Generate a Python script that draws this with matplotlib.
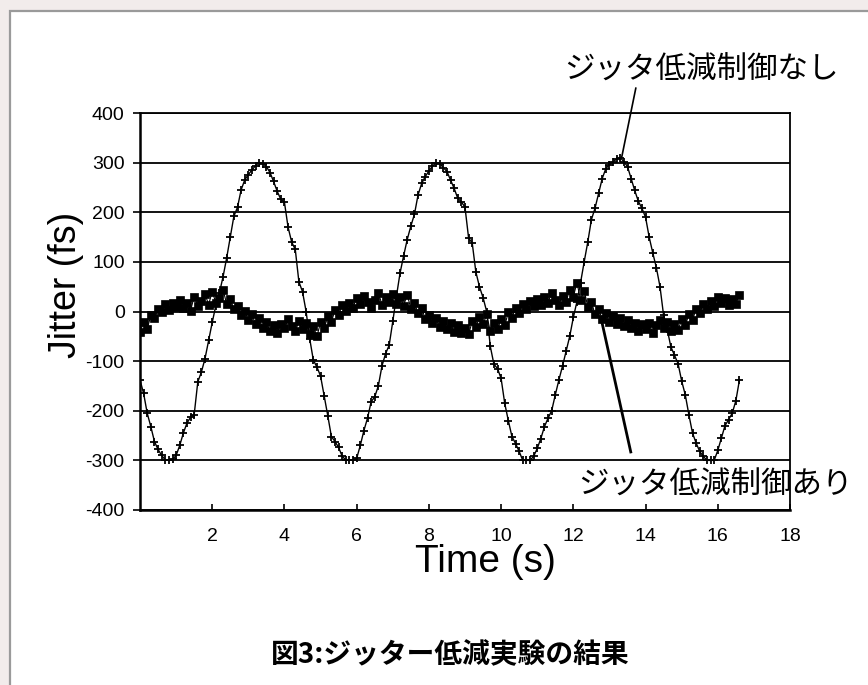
import matplotlib
matplotlib.use("Agg")
import matplotlib.pyplot as plt
from matplotlib.patches import Rectangle

plt.rcParams["axes.unicode_minus"] = False

# ---------------- data ----------------
time_s = [round(i * 0.1, 1) for i in range(167)]  # 0.0 .. 16.6 s

jitter_no_control = [
    -138, -165, -205, -232, -262, -278, -290, -299, -300, -298,
    -290, -270, -245, -225, -213, -208, -142, -122, -95, -58,
    -22, 12, 38, 70, 108, 150, 192, 210, 245, 265,
    276, 285, 294, 300, 298, 292, 280, 262, 242, 226,
    220, 170, 140, 125, 60, 40, 0, -55, -98, -112,
    -130, -170, -210, -252, -262, -274, -292, -299, -300, -299,
    -296, -270, -240, -215, -182, -172, -150, -110, -85, -68,
    -20, 30, 77, 112, 145, 172, 196, 235, 258, 272,
    283, 293, 300, 298, 290, 282, 265, 248, 228, 221,
    210, 148, 138, 80, 50, 28, 0, -70, -106, -115,
    -135, -185, -220, -252, -266, -282, -300, -300, -300, -292,
    -276, -256, -232, -215, -200, -168, -138, -110, -80, -50,
    -12, 20, 58, 100, 140, 185, 208, 238, 268, 288,
    296, 302, 307, 310, 302, 292, 268, 244, 222, 208,
    190, 150, 118, 88, 50, -8, -36, -71, -88, -105,
    -140, -168, -208, -245, -265, -282, -292, -300, -300, -300,
    -280, -255, -230, -218, -205, -180, -138,
]

jitter_with_control = [
    -41, -22, -35, -8, -14, 6, -2, 15, 4, 18,
    10, 24, 8, 18, 2, 30, 12, 22, 35, 14,
    40, 18, 28, 44, 15, 25, 5, 12, -8, 2,
    -18, -6, -26, -14, -34, -22, -40, -28, -44, -26,
    -34, -16, -30, -40, -20, -36, -24, -46, -30, -50,
    -22, -34, -10, -22, 4, -8, 14, 2, 18, 8,
    28, 16, 32, 20, 8, 24, 38, 14, 30, 20,
    36, 16, 30, 12, 34, 6, 18, -4, 8, -16,
    -8, -24, -14, -32, -20, -36, -24, -42, -28, -44,
    -34, -46, -20, -32, -12, -26, -6, -40, -24, -36,
    -16, -28, -2, -14, 8, -4, 16, 6, 22, 12,
    26, 14, 30, 18, 38, 24, 14, 32, 20, 44,
    30, 58, 24, 42, 10, 20, -6, 6, -16, -4,
    -22, -10, -26, -14, -30, -18, -34, -24, -40, -26,
    -36, -24, -44, -28, -18, -34, -22, -40, -26, -38,
    -16, -28, -6, -18, 6, -4, 16, 6, 22, 12,
    30, 18, 28, 14, 26, 16, 34,
]

x_ticks = [2, 4, 6, 8, 10, 12, 14, 16, 18]
y_ticks = [-400, -300, -200, -100, 0, 100, 200, 300, 400]

label_no = "ジッタ低減制御なし"
label_with = "ジッタ低減制御あり"
title = "図3:ジッター低減実験の結果"

# annotation anchor points (data coordinates)
no_line = ((13.73, 450), (13.34, 311))
with_line = ((12.79, -21), (13.59, -283))
no_text_pos = (15.55, 487)
with_text_pos = (15.94, -350)

# ---------------- figure ----------------
W, H = 868, 685
fig = plt.figure(figsize=(W / 100, H / 100), dpi=100, facecolor="#f2eceb")
# white panel with grey frame
fig.patches.append(Rectangle((10 / W, -0.05), 1.2, (H - 11) / H + 0.05,
                             transform=fig.transFigure, facecolor="white",
                             edgecolor="#9a9a9a", linewidth=1.6, zorder=-10))

ax = fig.add_axes([140 / W, (H - 510) / H, 650 / W, 397 / H])
ax.set_facecolor("white")

ax.plot(time_s, jitter_no_control, color="black", lw=1.0, marker="+",
        ms=6, mew=1.3, zorder=3)
ax.plot(time_s, jitter_with_control, color="black", lw=0.8, marker="s",
        ms=5.2, mew=0.5, zorder=3)

ax.set_xlim(0, 18)
ax.set_ylim(-400, 400)
ax.set_xticks(x_ticks)
ax.set_yticks(y_ticks)
ax.yaxis.grid(True, color="black", lw=1.3)
ax.set_axisbelow(True)

for s in ["left", "bottom"]:
    ax.spines[s].set_linewidth(1.8)
for s in ["top", "right"]:
    ax.spines[s].set_linewidth(1.3)

ax.tick_params(axis="x", direction="in", length=4, width=1.2, pad=13,
               labelsize=14)
ax.tick_params(axis="y", direction="out", length=5, width=1.2, pad=6,
               labelsize=14)
for lab in ax.get_xticklabels() + ax.get_yticklabels():
    lab.set_family("Liberation Sans")

# axis titles
fig.text(485 / W, 1 - 562 / H, "Time (s)", ha="center", va="center",
         fontsize=28, family="Liberation Sans")
fig.text(66 / W, 1 - 285 / H, "Jitter (fs)", ha="center", va="center",
         fontsize=27, family="Liberation Sans", rotation=90)

cjk = ["Noto Sans CJK JP", "DejaVu Sans"]
ax.text(*no_text_pos, label_no, ha="center", va="center", fontsize=22,
        family=cjk, clip_on=False)
ax.text(*with_text_pos, label_with, ha="center", va="center", fontsize=22,
        family=cjk, clip_on=False)

ax.plot([no_line[0][0], no_line[1][0]], [no_line[0][1], no_line[1][1]],
        color="black", lw=1.2, clip_on=False, zorder=4)
ax.plot([with_line[0][0], with_line[1][0]], [with_line[0][1], with_line[1][1]],
        color="black", lw=2.0, clip_on=False, zorder=4)

fig.text(450 / W, 1 - 655 / H, title, ha="center", va="center",
         fontsize=20, fontweight="bold", family=cjk)

fig.savefig("out.png", dpi=100, facecolor=fig.get_facecolor())
